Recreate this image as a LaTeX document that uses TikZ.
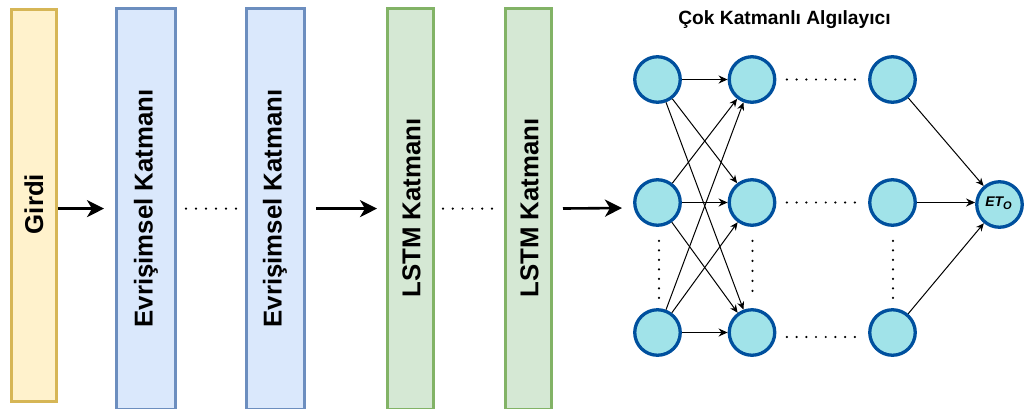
\documentclass[tikz,border=0pt]{standalone}
\usepackage{fontspec}
\setmainfont{Liberation Sans}
\usetikzlibrary{arrows.meta}

\definecolor{inFill}{HTML}{FFF2CC}
\definecolor{inLine}{HTML}{D6B656}
\definecolor{convFill}{HTML}{DAE8FC}
\definecolor{convLine}{HTML}{6C8EBF}
\definecolor{lstmFill}{HTML}{D5E8D4}
\definecolor{lstmLine}{HTML}{82B366}
\definecolor{neuFill}{HTML}{A1E3E9}
\definecolor{neuLine}{HTML}{00509E}

\tikzset{
  layerbox/.style={rectangle, line width=3pt, inner sep=0pt},
  convbox/.style={layerbox, draw=convLine, fill=convFill, minimum height=400.8pt},
  lstmbox/.style={layerbox, draw=lstmLine, fill=lstmFill, minimum height=400.8pt, minimum width=46pt},
  lbl/.style={rotate=90, inner sep=0pt, font=\fontsize{25.8}{30}\selectfont\bfseries},
  neuron/.style={circle, draw=neuLine, fill=neuFill, line width=3.3pt, minimum size=45.5pt, inner sep=0pt},
  flow/.style={-{Stealth[length=17pt,width=17pt,inset=5pt]}, line width=2.6pt},
  link/.style={-{Stealth[length=8pt,width=7pt]}, line width=1pt},
  hlink/.style={-{Stealth[length=9pt,width=8pt]}, line width=1.4pt},
  gap/.style={line width=2.4pt, line cap=round, dash pattern=on 0pt off #1},
  gap/.default=9.8pt
}

\begin{document}
\begin{tikzpicture}[x=1pt,y=-1pt]
\useasboundingbox (0,0) rectangle (1029,408);
\begin{scope}
\clip (0,0) rectangle (1029,408);

% layer columns
\node[layerbox, draw=inLine, fill=inFill, minimum width=45pt, minimum height=392pt] (girdi) at (34,205.5) {};
\node[convbox, minimum width=59pt] (evr1) at (146,208.6) {};
\node[convbox, minimum width=58pt] (evr2) at (275.5,208.6) {};
\node[lstmbox] (lstm1) at (410.5,208.6) {};
\node[lstmbox] (lstm2) at (528.5,208.6) {};

\node[lbl] (girdiT) at (34,204) {Girdi};
\node[lbl] (evr1T) at (146,208.5) {Evrişimsel Katmanı};
\node[lbl] (evr2T) at (275,208.5) {Evrişimsel Katmanı};
\node[lbl] (lstm1T) at (411.5,208) {LSTM Katmanı};
\node[lbl] (lstm2T) at (529.5,208) {LSTM Katmanı};

% flow between columns
\coordinate (mlpin) at (622,208);
\draw[flow, shorten >=11pt] (girdi.east |- evr1.west) -- (evr1.west);
\draw[gap=10pt] ([xshift=9pt]evr1.east) -- ([xshift=-8.5pt]evr2.west);
\draw[flow, shorten <=10pt, shorten >=9pt] (evr2.east) -- (lstm1.west);
\draw[gap] ([xshift=8pt]lstm1.east) -- ([xshift=-11.5pt]lstm2.west);
\draw[flow, shorten <=10pt] (lstm2.east) -- (mlpin);

% multilayer perceptron
\node[font=\fontsize{19.2}{23}\selectfont\bfseries] (title) at (784.5,20) {Çok Katmanlı Algılayıcı};

\node[neuron] (a1) at (657.5,79.5) {};
\node[neuron] (a2) at (657.5,202.5) {};
\node[neuron] (a3) at (657.5,332.5) {};
\node[neuron] (b1) at (752,79.5) {};
\node[neuron] (b2) at (752,202.5) {};
\node[neuron] (b3) at (752,332.5) {};
\node[neuron] (c1) at (892.5,79.5) {};
\node[neuron] (c2) at (892.5,202.5) {};
\node[neuron] (c3) at (892.5,332.5) {};
\node[neuron] (out) at (999.5,204.5) {};
\node[font=\fontsize{14}{16}\selectfont\bfseries\itshape] (outT) at (998.5,203)
  {ET\raisebox{-0.35ex}{\fontsize{11}{12}\selectfont O}};

% first to second layer
\draw[hlink] (a1) -- (b1);
\draw[hlink] (a2) -- (b2);
\draw[hlink] (a3) -- (b3);
\draw[link] (a1) -- (b2);
\draw[link] (a1) -- (b3);
\draw[link] (a2) -- (b1);
\draw[link] (a2) -- (b3);
\draw[link] (a3) -- (b1);
\draw[link] (a3) -- (b2);

% last layer to output
\draw[link] (c1) -- (out);
\draw[hlink] (c2.east) -- (c2.east -| out.west);
\draw[link] (c3) -- (out);

% elided neurons (canvas yshift: negative is downwards)
\draw[gap=9.7pt] ([xshift=10.5pt]b1.east) -- ([xshift=-13pt]c1.west);
\draw[gap=9.7pt] ([xshift=10.5pt]b2.east) -- ([xshift=-13pt]c2.west);
\draw[gap=9.7pt] ([xshift=10.5pt,yshift=-4.5pt]b3.east) -- ([xshift=-13pt,yshift=-4.5pt]c3.west);
\draw[gap=9.5pt] ([xshift=1.5pt,yshift=-14pt]a2.south) -- ([xshift=1.5pt,yshift=10pt]a3.north);
\draw[gap=10pt] ([xshift=0.5pt,yshift=-14pt]b2.south) -- ([xshift=0.5pt,yshift=16pt]b3.north);
\draw[gap=9.5pt] ([xshift=0.5pt,yshift=-14pt]c2.south) -- ([xshift=0.5pt,yshift=10pt]c3.north);
\end{scope}
\end{tikzpicture}
\end{document}
